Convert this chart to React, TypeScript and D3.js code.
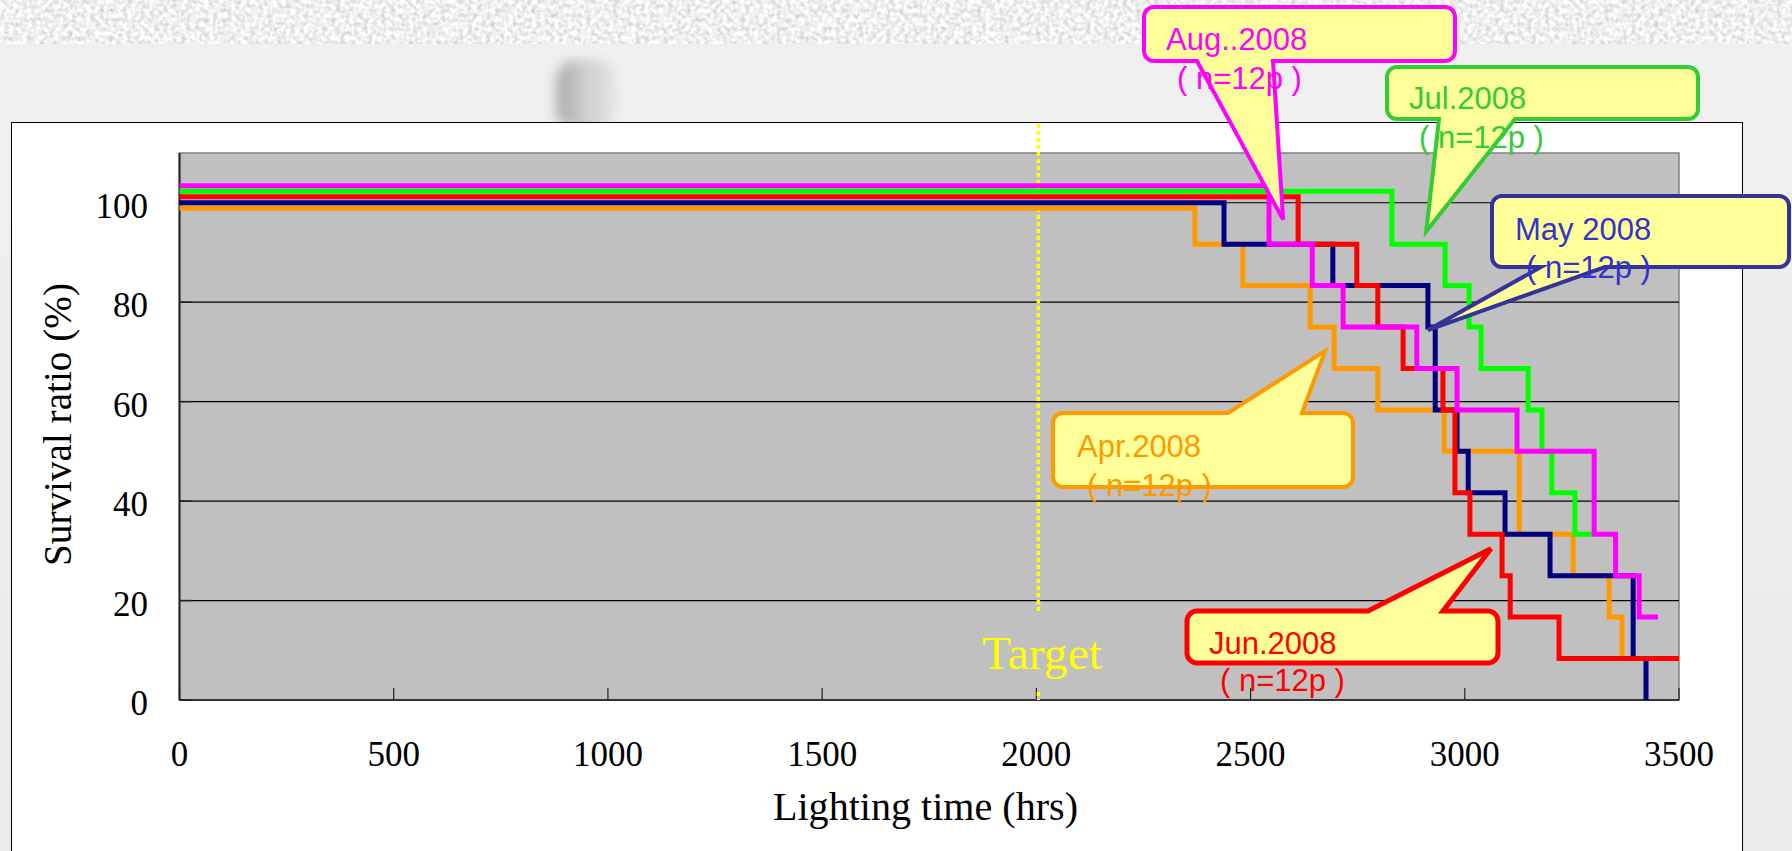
import React from "react";
import * as d3 from "d3";

// ---------- data ----------
const xTicks = [0, 500, 1000, 1500, 2000, 2500, 3000, 3500];
const yTicks = [0, 20, 40, 60, 80, 100];
const targetHours = 2000;

const aprTimes = [0, 2370, 2482, 2639, 2695, 2797, 2952, 3127, 3253, 3337, 3367];
const aprValues = [98.9, 91.67, 83.33, 75, 66.67, 58.33, 50, 33.33, 25, 16.67, 8.33];

const mayTimes = [0, 2438, 2692, 2914, 2931, 2982, 3008, 3094, 3199, 3393, 3423];
const mayValues = [100, 91.67, 83.33, 75, 58.33, 50, 41.67, 33.33, 25, 8.33, 0];

const junTimes = [0, 2611, 2748, 2797, 2856, 2949, 2977, 3012, 3087, 3106, 3220, 3500];
const junValues = [101.2, 91.67, 83.33, 75, 66.67, 58.33, 41.67, 33.33, 25, 16.67, 8.33, 8.33];

const julTimes = [0, 2830, 2954, 3010, 3038, 3148, 3180, 3203, 3257, 3297];
const julValues = [102.3, 91.67, 83.33, 75, 66.67, 58.33, 50, 41.67, 33.33, 33.33];

const augTimes = [0, 2543, 2644, 2716, 2888, 2982, 3122, 3302, 3352, 3407, 3451];
const augValues = [103.4, 91.67, 83.33, 75, 66.67, 58.33, 50, 33.33, 25, 16.67, 16.67];

const calloutTitles = ["Aug..2008", "Jul.2008", "May 2008", "Apr.2008", "Jun.2008"];
const calloutSub = "( n=12p )";
// tip of each callout in data units (hours, %)
const calloutTipHours = [2576, 2910, 2914, 2674, 3061];
const calloutTipValues = [96.6, 94.2, 74.4, 70.2, 30.4];

// ---------- layout / style ----------
const W = 1792;
const H = 851;
const plot = { left: 179.5, right: 1679, top: 153, bottom: 700 };
const serif = "'Liberation Serif', 'Times New Roman', serif";
const sans = "'Liberation Sans', Arial, sans-serif";

const seriesStyle = [
  { times: aprTimes, values: aprValues, color: "#FF9900" },
  { times: mayTimes, values: mayValues, color: "#000080" },
  { times: junTimes, values: junValues, color: "#FF0000" },
  { times: julTimes, values: julValues, color: "#00FF00" },
  { times: augTimes, values: augValues, color: "#FF00FF" },
];

type Box = { x: number; y: number; w: number; h: number };
const calloutLayout = [
  { box: { x: 1144, y: 7, w: 311, h: 54 }, side: "bottom", w0: 1197, w1: 1273, stroke: "#FF00FF", text: "#FF00FF", sw: 4, t1: [1166, 50], t2: [1177, 89] },
  { box: { x: 1387, y: 67, w: 311, h: 52 }, side: "bottom", w0: 1439, w1: 1515, stroke: "#33CC33", text: "#33CC33", sw: 4, t1: [1409, 109], t2: [1419, 148] },
  { box: { x: 1492, y: 196, w: 297, h: 71 }, side: "bottom", w0: 1541, w1: 1605, stroke: "#333399", text: "#3333CC", sw: 4, t1: [1515, 240], t2: [1526, 278] },
  { box: { x: 1053, y: 413, w: 300, h: 74 }, side: "top", w0: 1228, w1: 1302, stroke: "#FF9900", text: "#FF9900", sw: 4, t1: [1077, 457], t2: [1087, 496] },
  { box: { x: 1187, y: 611, w: 311, h: 52 }, side: "top", w0: 1368, w1: 1443, stroke: "#FF0000", text: "#FF0000", sw: 5, t1: [1209, 654], t2: [1220, 691] },
];

function calloutPath(b: Box, side: string, w0: number, w1: number, tx: number, ty: number, r = 10) {
  const x0 = b.x, y0 = b.y, x1 = b.x + b.w, y1 = b.y + b.h;
  let d = `M${x0 + r},${y0}`;
  if (side === "top") d += `H${w0}L${tx},${ty}L${w1},${y0}`;
  d += `H${x1 - r}A${r},${r} 0 0 1 ${x1},${y0 + r}V${y1 - r}A${r},${r} 0 0 1 ${x1 - r},${y1}`;
  if (side === "bottom") d += `H${w1}L${tx},${ty}L${w0},${y1}`;
  d += `H${x0 + r}A${r},${r} 0 0 1 ${x0},${y1 - r}V${y0 + r}A${r},${r} 0 0 1 ${x0 + r},${y0}Z`;
  return d;
}

export default function App() {
  const x = d3.scaleLinear().domain([0, 3500]).range([plot.left, plot.right]);
  const y = d3.scaleLinear().domain([0, 110]).range([plot.bottom, plot.top]);
  const line = d3
    .line<[number, number]>()
    .x((d) => x(d[0]))
    .y((d) => y(d[1]))
    .curve(d3.curveStepAfter);

  const tx = x(targetHours) + 2;

  return (
    <svg
      width={W}
      height={H}
      viewBox={`0 0 ${W} ${H}`}
      style={{ position: "absolute", left: 0, top: 0, display: "block" }}
    >
      <defs>
        <filter id="noise" x="0" y="0" width="100%" height="100%">
          <feTurbulence type="fractalNoise" baseFrequency="0.22" numOctaves="2" seed="3" result="t" />
          <feColorMatrix
            in="t"
            type="matrix"
            values="0.7 0 0 0 0.52  0.7 0 0 0 0.52  0.7 0 0 0 0.52  0 0 0 0 1"
          />
        </filter>
        <filter id="blur" x="-50%" y="-50%" width="200%" height="200%">
          <feGaussianBlur stdDeviation="6" />
        </filter>
        <linearGradient id="cyl" x1="0" x2="1" y1="0" y2="0">
          <stop offset="0" stopColor="#a8a8a8" />
          <stop offset="0.5" stopColor="#cfcfcf" />
          <stop offset="1" stopColor="#e4e4e4" />
        </linearGradient>
        <linearGradient id="bg" x1="0" x2="0" y1="0" y2="1">
          <stop offset="0" stopColor="#F0F0F0" />
          <stop offset="1" stopColor="#EAEAEA" />
        </linearGradient>
      </defs>

      {/* page background */}
      <rect x={0} y={0} width={W} height={H} fill="url(#bg)" />
      <rect x={0} y={0} width={W} height={44} filter="url(#noise)" />
      <rect x={556} y={60} width={60} height={70} rx={20} fill="url(#cyl)" filter="url(#blur)" />

      {/* chart frame */}
      <rect x={11.5} y={122.5} width={1731} height={H} fill="#FFFFFF" stroke="#000" strokeWidth={1} />

      {/* plot area */}
      <rect
        x={plot.left}
        y={plot.top}
        width={plot.right - plot.left}
        height={plot.bottom - plot.top}
        fill="#C0C0C0"
        stroke="#808080"
        strokeWidth={1.5}
      />
      {yTicks
        .filter((v) => v > 0)
        .map((v) => (
          <line key={"g" + v} x1={plot.left} x2={plot.right} y1={y(v)} y2={y(v)} stroke="#000" strokeWidth={1.2} />
        ))}
      {/* axes */}
      <line x1={plot.left} x2={plot.left} y1={plot.top} y2={plot.bottom} stroke="#222" strokeWidth={2} />
      <line x1={plot.left} x2={plot.right} y1={plot.bottom} y2={plot.bottom} stroke="#333" strokeWidth={2} />
      {xTicks.map((t) => (
        <line key={"xt" + t} x1={x(t)} x2={x(t)} y1={plot.bottom} y2={plot.bottom - 12} stroke="#222" strokeWidth={1.2} />
      ))}
      {yTicks.map((v) => (
        <line key={"yt" + v} x1={plot.left} x2={plot.left + 12} y1={y(v)} y2={y(v)} stroke="#222" strokeWidth={1.5} />
      ))}

      {/* tick labels */}
      {xTicks.map((t) => (
        <text key={"xl" + t} x={x(t)} y={766} textAnchor="middle" fontFamily={serif} fontSize={35} fill="#000">
          {t}
        </text>
      ))}
      {yTicks.map((v) => (
        <text key={"yl" + v} x={148} y={y(v) + 15} textAnchor="end" fontFamily={serif} fontSize={35} fill="#000">
          {v}
        </text>
      ))}

      {/* axis titles */}
      <text x={773} y={820} fontFamily={serif} fontSize={41} fill="#000" textLength={305} lengthAdjust="spacingAndGlyphs">
        Lighting time  (hrs)
      </text>
      <text
        transform="translate(71,424.5) rotate(-90)"
        textAnchor="middle"
        fontFamily={serif}
        fontSize={40}
        fill="#000"
        textLength={283}
        lengthAdjust="spacingAndGlyphs"
      >
        Survival ratio (%)
      </text>

      {/* target line */}
      <line x1={tx} x2={tx} y1={124} y2={612} stroke="#FFFF00" strokeWidth={3.5} strokeDasharray="4,3" />
      <line x1={tx} x2={tx} y1={692} y2={700} stroke="#FFFF00" strokeWidth={3.5} strokeDasharray="4,3" />
      <text x={982} y={669} fontFamily={serif} fontSize={46} fill="#FFFF00" textLength={120} lengthAdjust="spacingAndGlyphs">
        Target
      </text>

      {/* survival step curves */}
      {seriesStyle.map((s, i) => {
        const pts = s.times.map((t, k) => [t, s.values[k]] as [number, number]);
        return (
          <path key={"s" + i} d={line(pts) || ""} fill="none" stroke={s.color} strokeWidth={5} strokeLinejoin="miter" />
        );
      })}

      {/* callouts */}
      {calloutLayout.map((c, i) => {
        const px = x(calloutTipHours[i]);
        const py = y(calloutTipValues[i]);
        return (
          <g key={"c" + i}>
            <path
              d={calloutPath(c.box, c.side, c.w0, c.w1, px, py)}
              fill="#FFFF99"
              stroke={c.stroke}
              strokeWidth={c.sw}
              strokeLinejoin="miter"
            />
            <text x={c.t1[0]} y={c.t1[1]} fontFamily={sans} fontSize={31} fill={c.text}>
              {calloutTitles[i]}
            </text>
            <text x={c.t2[0]} y={c.t2[1]} fontFamily={sans} fontSize={31} fill={c.text} xmlSpace="preserve">
              {calloutSub}
            </text>
          </g>
        );
      })}
    </svg>
  );
}
